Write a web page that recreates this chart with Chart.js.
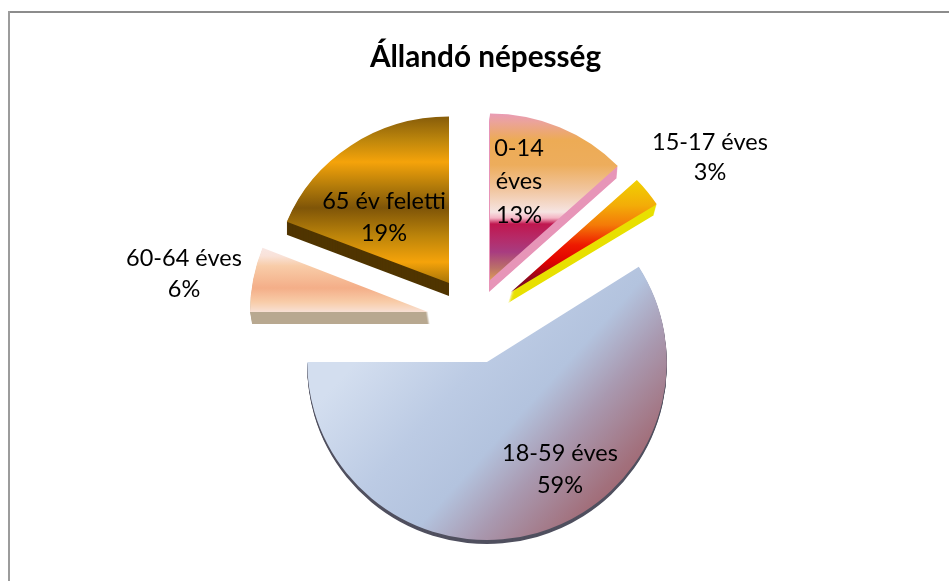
<!DOCTYPE html>
<html>
<head>
<meta charset="utf-8">
<title>Állandó népesség</title>
<script src="https://cdn.jsdelivr.net/npm/chart.js@4/dist/chart.umd.js"></script>
<style>
  html, body { margin: 0; padding: 0; background: #fff; overflow: hidden; }
  #wrap { position: relative; width: 949px; height: 581px; }
</style>
</head>
<body>
<div id="wrap"><canvas id="pieChart" width="949" height="581"></canvas></div>
<script>
/* adatok */
const categories = ['0-14 éves', '15-17 éves', '18-59 éves', '60-64 éves', '65 év feletti'];
const shares = [13, 3, 59, 6, 19];
const chartTitle = 'Állandó népesség';

/* a szeletek elhelyezése (kirobbantás a kör közepétől, perspektíva, vastagság) */
const centerX = 485.5;
const centerY = 318;
const explode = [[4.5, -38], [25.5, -26], [1.5, 44], [-57.5, -6], [-36.5, -35]];
const squash = [[0.985, 0.935], [0.97, 0.92], [1.01, 1.0], [1.0, 0.98], [0.98, 0.935]];
const depth = [[-1, 12], [-3, 11], [0, 4], [2, 12], [0, 13]];
const sideColors = ['#e795b8', '#e8e000', '#50505f', '#b8a890', '#503500'];

/* címkék helye */
const labelCenters = [[519, 148], [710, 142], [560, 453], [184, 258], [384, 201]];
const labelWrap = [true, false, false, false, false];
const labelLineHeight = [33.5, 30.5, 32, 31, 32];

var ctx = document.getElementById('pieChart').getContext('2d');

/* a színátmenetek képernyő-y értékei helyi koordinátára számolva */
function bandFill(i, stops) {
  const toLocal = y => centerY + (y - (centerY + explode[i][1])) / squash[i][1];
  const y0 = stops[0][0], y1 = stops[stops.length - 1][0];
  const g = ctx.createLinearGradient(0, toLocal(y0), 0, toLocal(y1));
  stops.forEach(s => g.addColorStop((s[0] - y0) / (y1 - y0), s[1]));
  return g;
}

function diagonalFill(i, x0, y0, x1, y1, stops) {
  const dx = explode[i][0], dy = explode[i][1];
  const g = ctx.createLinearGradient(x0 - dx, y0 - dy, x1 - dx, y1 - dy);
  stops.forEach(s => g.addColorStop(s[0], s[1]));
  return g;
}

const fills = [
  bandFill(0, [[114, '#e99cb4'], [122, '#eba39a'], [140, '#edab55'], [165, '#edad5c'], [190, '#f1c6a0'], [212, '#f6e4e2'], [218, '#f4b4c4'], [224, '#c0174f'], [238, '#b62a68'], [252, '#a83c80'], [268, '#bb7068'], [282, '#e2a255']]),
  bandFill(1, [[178, '#f0d400'], [205, '#f3ad08'], [225, '#f47a08'], [245, '#ee1a00'], [262, '#e00000'], [280, '#8a0820'], [294, '#700828']]),
  diagonalFill(2, 340, 300, 625, 555, [[0.14, '#d3deef'], [0.38, '#bccbe4'], [0.55, '#b3c3de'], [0.68, '#a999b0'], [0.84, '#a2707c'], [0.95, '#a05a62']]),
  bandFill(3, [[245, '#f8e8e8'], [256, '#f9e2d8'], [266, '#f8cca8'], [288, '#f4ae88'], [302, '#f8cca8'], [312, '#f8e0d4']]),
  bandFill(4, [[118, '#8a5f0a'], [140, '#bd860c'], [162, '#f5a30a'], [186, '#b47c0a'], [208, '#7f5508'], [236, '#bc840a'], [262, '#f5a30a'], [283, '#a87508']])
];

const piePlugin = {
  id: 'explodedPie',
  beforeDraw(chart) {
    const c = chart.ctx;
    c.save();
    c.fillStyle = '#8c8c8c';
    c.fillRect(8, 11, 941, 2);
    c.fillStyle = '#9c9c9c';
    c.fillRect(8, 11, 2, 570);
    c.restore();
  },
  beforeDatasetDraw(chart, args) {
    const c = chart.ctx;
    const arcs = args.meta.data;
    arcs.forEach((arc, i) => {
      const resolved = arc.options;
      const steps = depth[i][1];
      /* oldalfal: ugyanaz a szelet eltolva, sötét színnel */
      arc.options = Object.assign({}, resolved, {backgroundColor: sideColors[i], borderWidth: 0});
      for (let s = steps; s >= 1; s--) {
        c.save();
        c.translate(arc.x + explode[i][0] + depth[i][0] * s / steps, arc.y + explode[i][1] + s);
        c.scale(squash[i][0], squash[i][1]);
        c.translate(-arc.x, -arc.y);
        arc.draw(c);
        c.restore();
      }
      arc.options = resolved;
      c.save();
      c.translate(arc.x + explode[i][0], arc.y + explode[i][1]);
      c.scale(squash[i][0], squash[i][1]);
      c.translate(-arc.x, -arc.y);
      arc.draw(c);
      c.restore();
    });
    return false;
  },
  afterDatasetsDraw(chart) {
    const c = chart.ctx;
    c.save();
    c.fillStyle = '#000';
    c.font = '23.5px Lato';
    c.textAlign = 'center';
    c.textBaseline = 'middle';
    categories.forEach((name, i) => {
      const lines = labelWrap[i] ? name.split(' ') : [name];
      lines.push(shares[i] + '%');
      lines.forEach((line, n) => {
        c.fillText(line, labelCenters[i][0], labelCenters[i][1] + n * labelLineHeight[i]);
      });
    });
    c.restore();
  }
};

new Chart(ctx, {
  type: 'pie',
  data: {
    labels: categories,
    datasets: [{
      data: shares,
      backgroundColor: fills,
      borderWidth: 0
    }]
  },
  options: {
    responsive: false,
    animation: false,
    layout: {padding: {top: 30, bottom: 85, left: 22, right: 0}},
    plugins: {
      legend: {display: false},
      tooltip: {enabled: false},
      title: {
        display: true,
        text: chartTitle,
        color: '#000',
        font: {family: 'Lato', size: 29.7, weight: 'bold', lineHeight: 1.2},
        padding: {top: 9.2, bottom: 65.2}
      }
    }
  },
  plugins: [piePlugin]
});
</script>
</body>
</html>
